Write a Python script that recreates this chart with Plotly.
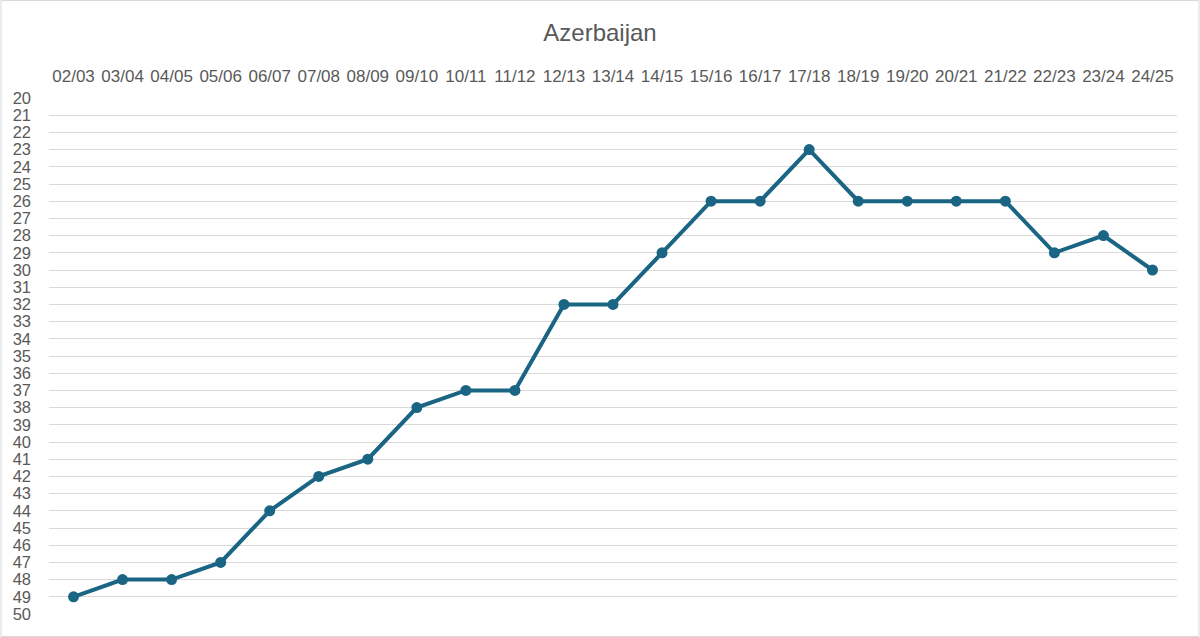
import plotly.graph_objects as go

seasons = ["02/03", "03/04", "04/05", "05/06", "06/07", "07/08", "08/09", "09/10",
           "10/11", "11/12", "12/13", "13/14", "14/15", "15/16", "16/17", "17/18",
           "18/19", "19/20", "20/21", "21/22", "22/23", "23/24", "24/25"]
ranks = [49, 48, 48, 47, 44, 42, 41, 38, 37, 37, 32, 32, 29, 26, 26, 23,
         26, 26, 26, 26, 29, 28, 30]
y_ticks = list(range(20, 51))

W, H = 1200, 637
ml, mr, mt, mb = 48.5, 22.5, 98, 23
pw = W - ml - mr
ph = H - mt - mb

fig = go.Figure()
fig.add_trace(go.Scatter(
    x=seasons, y=ranks, mode="lines+markers",
    line=dict(color="#1B6584", width=4),
    marker=dict(color="#1B6584", size=11),
    hoverinfo="x+y", showlegend=False,
))

fig.update_layout(
    width=W, height=H,
    margin=dict(l=ml, r=mr, t=mt, b=mb, pad=0),
    paper_bgcolor="white", plot_bgcolor="white",
    font=dict(family="Liberation Sans, Arial, sans-serif", color="#595959", size=17),
    title=dict(text="Azerbaijan", x=0.5, xanchor="center", y=1 - 33 / H, yanchor="middle",
               font=dict(size=24, color="#595959")),
    xaxis=dict(type="category", side="top", showgrid=False, showline=False, zeroline=False,
               ticks="", tickfont=dict(size=17, color="#595959"), ticklabelstandoff=12,
               range=[-0.5, len(seasons) - 0.5]),
    yaxis=dict(range=[50, 20], tickmode="array", tickvals=y_ticks,
               ticktext=[str(v) for v in y_ticks],
               showgrid=True, gridcolor="#D9D9D9", gridwidth=1.3,
               showline=False, zeroline=False, ticks="",
               tickfont=dict(size=16.5, color="#595959"), ticklabelstandoff=17),
    shapes=[dict(type="rect", xref="paper", yref="paper",
                 x0=(0.5 - ml) / pw, x1=1 + (mr - 0.5) / pw,
                 y0=-(mb - 0.5) / ph, y1=1 + (mt - 0.5) / ph,
                 line=dict(color="#D9D9D9", width=1), layer="below")],
)

fig.write_html("out.html", config={"displayModeBar": False},
               post_script="document.body.style.margin='0';document.body.style.overflow='hidden';")
